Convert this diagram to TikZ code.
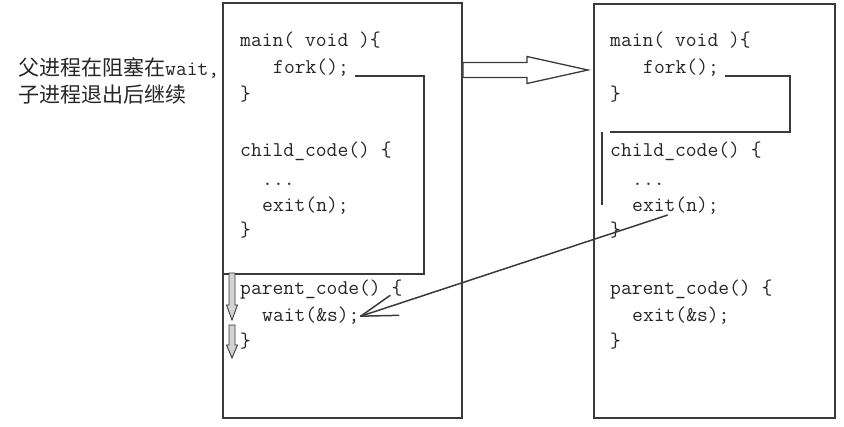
\documentclass[tikz,border=0pt]{standalone}
\usepackage{fontspec}
\newfontfamily\cjk{Noto Sans CJK SC}
\usetikzlibrary{arrows.meta,positioning,calc}
\definecolor{inkgray}{HTML}{3A3A3A}
\definecolor{codeink}{HTML}{262626}

\tikzset{
  progbox/.style={draw=inkgray,line width=1.8pt,inner sep=0pt},
  code/.style={anchor=base west,inner sep=0pt,text=codeink,font=\fontsize{21}{27}\selectfont\ttfamily},
  note/.style={anchor=base west,inner sep=0pt,text=codeink,font=\fontsize{21}{27}\selectfont\cjk},
  bracket/.style={draw=inkgray,line width=2.6pt},
  hollowarrow/.style={draw=inkgray,line width=1.3pt,fill=white,line join=miter},
  callline/.style={draw=inkgray,line width=1.5pt,line cap=round,line join=round},
  downmark/.style={draw=inkgray,line width=0.9pt,fill=gray!35}
}

\begin{document}
\begin{tikzpicture}[x=1pt,y=-1pt]
  \useasboundingbox (0,0) rectangle (844,427);

  % the two program copies
  \node[progbox,minimum width=239pt,minimum height=415pt] (lbox) at (342.5,210.5) {};
  \node[progbox,minimum width=241pt,minimum height=414pt] (rbox) at (714.5,211) {};

  % note on the left
  \node[note] (note1) at (18,75.5) {父进程在阻塞在{\ttfamily wait,}};
  \node[note] (note2) at (18,102.5) {子进程退出后继续};

  % code, parent copy
  \node[code] (lmain) at (240,47) {main( void )\{};
  \node[code] (lfork) at (273,74) {fork();};
  \node[code] (lmainend) at (240,101) {\}};
  \node[code] (lchild) at (240,157) {child\_code() \{};
  \node[code] (ldots) at (262,186) {...};
  \node[code] (lexit) at (262,212) {exit(n);};
  \node[code] (lchildend) at (240,237) {\}};
  \node[code] (lparent) at (240,295) {parent\_code() \{};
  \node[code] (lwait) at (262,322) {wait(\&s);};
  \node[code] (lparentend) at (240,348) {\}};

  % code, child copy
  \node[code] (rmain) at (610,47) {main( void )\{};
  \node[code] (rfork) at (643,74) {fork();};
  \node[code] (rmainend) at (610,101) {\}};
  \node[code] (rchild) at (610,157) {child\_code() \{};
  \node[code] (rdots) at (632,186) {...};
  \node[code] (rexit) at (632,212) {exit(n);};
  \node[code] (rchildend) at (610,237) {\}};
  \node[code] (rparent) at (610,295) {parent\_code() \{};
  \node[code] (rexits) at (632,322) {exit(\&s);};
  \node[code] (rparentend) at (610,348) {\}};

  % brackets after fork()
  \draw[bracket] ([shift={(6pt,-2pt)}]lfork.base east) -- (424,76) -- (424,274) -- (lbox.west |- 0,274);
  \draw[bracket] ([shift={(6pt,-2pt)}]rfork.base east) -- (790,76) -- (790,132) -- (610,132);
  \draw[bracket] (602,132) -- (602,205);

  % hollow arrow between the copies
  \coordinate (arrowtip) at (588,70);
  \coordinate (arrowtail) at (lbox.east |- arrowtip);
  \draw[hollowarrow] ($(arrowtail)+(0,-7.5)$) -- ++(64,0) -- ++(0,-6) -- (arrowtip)
    -- ($(arrowtail)+(64,13.5)$) -- ++(0,-6) -- ($(arrowtail)+(0,7.5)$) -- cycle;

  % exit wakes the waiting parent
  \coordinate (callstart) at ([xshift=-8pt]rexit.south);
  \coordinate (calltip) at ([xshift=1pt]lwait.east);
  \draw[callline] (callstart) -- (calltip);
  \draw[callline] ($(calltip)!36pt!17:(callstart)$) -- (calltip) -- ($(calltip)!38pt!-17:(callstart)$);

  % blocked markers
  \foreach \top/\neck/\bot in {273/305/320,325/345/358}
    \draw[downmark] (229,\top) -- (235,\top) -- (235,\neck) -- (237.5,\neck)
      -- (232,\bot) -- (226.5,\neck) -- (229,\neck) -- cycle;
\end{tikzpicture}
\end{document}
